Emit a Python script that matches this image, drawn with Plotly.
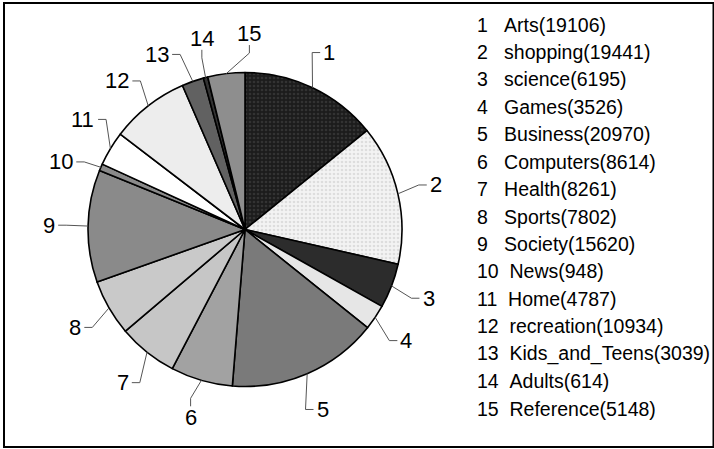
import math
import plotly.graph_objects as go

# ---- data ----
categories = ["Arts", "shopping", "science", "Games", "Business", "Computers", "Health",
              "Sports", "Society", "News", "Home", "recreation", "Kids_and_Teens",
              "Adults", "Reference"]
values = [19106, 19441, 6195, 3526, 20970, 8614, 8261, 7802, 15620, 948, 4787,
          10934, 3039, 614, 5148]
slice_numbers = [str(i + 1) for i in range(len(categories))]

# ---- style ----
colors = ["#1c1c1c", "#f3f3f3", "#2c2c2c", "#e6e6e6", "#7a7a7a", "#a2a2a2", "#c6c6c6",
          "#c9c9c9", "#8a8a8a", "#8a8a8a", "#ffffff", "#ededed", "#616161",
          "#333333", "#8e8e8e"]
pattern_shapes = ["."] * 2 + [""] * 13
pattern_fg = ["#4a4a4a", "#c8c8c8"] + ["#000000"] * 13

W, H = 714, 449
CX, CY, R = 245, 229.5, 157
FONT = "Arial, 'Liberation Sans', sans-serif"


def px(x):
    return x / W


def py(y):
    return 1 - y / H


fig = go.Figure(go.Pie(
    values=values, labels=categories, sort=False, direction="clockwise", rotation=0,
    textinfo="none", showlegend=False, hoverinfo="label+value",
    marker=dict(colors=colors, line=dict(color="black", width=1.6),
                pattern=dict(shape=pattern_shapes, fgcolor=pattern_fg, size=4, solidity=0.35,
                             fillmode="overlay")),
    domain=dict(x=[(CX - R) / W, (CX + R) / W], y=[py(CY + R), py(CY - R)]),
))

# ---- slice label positions derived from the data ----
total = float(sum(values))
mids = []
cum = 0.0
for v in values:
    mids.append((cum + v / 2) / total * 360.0)
    cum += v

# relax label angles to keep a minimum separation
lab = mids[:]
MIN_GAP = 14.0
n = len(lab)
for _ in range(200):
    moved = False
    for i in range(n):
        j = (i + 1) % n
        a, b = lab[i], lab[j]
        gap = (b - a) % 360.0
        if gap < MIN_GAP:
            push = (MIN_GAP - gap) / 2
            lab[i] = (a - push) % 360.0
            lab[j] = (b + push) % 360.0
            moved = True
    if not moved:
        break


def pt(ang, r):
    t = math.radians(ang)
    return CX + r * math.sin(t), CY - r * math.cos(t)


RL = R + 39
LFS = 22
annotations = []
shapes = []
for i, num in enumerate(slice_numbers):
    la = lab[i]
    tx, ty = pt(la, RL)
    annotations.append(dict(x=px(tx), y=py(ty), xref="paper", yref="paper", text=num,
                            showarrow=False, xanchor="center", yanchor="middle",
                            font=dict(size=LFS, color="black", family=FONT)))
    ex, ey = pt(mids[i], R)
    hw = len(num) * 0.556 * LFS / 2
    hh = 8.5
    s = math.sin(math.radians(la))
    c = math.cos(math.radians(la))
    if abs(s) > 0.35:
        sg = 1 if s > 0 else -1
        cx_, cy_ = tx - sg * (hw + 3), ty
        bx, by = cx_ - sg * 8, ty
    else:
        sg = 1 if c > 0 else -1  # 1: label above pie
        cx_, cy_ = tx, ty + sg * (hh + 3)
        bx, by = tx, cy_ + sg * 8
    shapes.append(dict(type="path", xref="paper", yref="paper",
                       path=f"M {px(ex)} {py(ey)} L {px(bx)} {py(by)} L {px(cx_)} {py(cy_)}",
                       line=dict(color="#555555", width=1)))

# ---- legend list ----
LEG_X, LEG_Y0, LEG_DY = 475, 24.5, 27.43
for i, (cat, v) in enumerate(zip(categories, values)):
    num = slice_numbers[i]
    sep = "\u00a0\u00a0\u00a0" if len(num) == 1 else "\u00a0\u00a0"
    annotations.append(dict(x=px(LEG_X), y=py(LEG_Y0 + i * LEG_DY), xref="paper", yref="paper",
                            text=f"{num}{sep}{cat}({v})", showarrow=False,
                            xanchor="left", yanchor="middle",
                            font=dict(size=19.5, color="black", family=FONT)))

# frame
shapes.append(dict(type="rect", xref="paper", yref="paper", x0=px(4), x1=px(713.5),
                   y0=py(447), y1=py(3), line=dict(color="black", width=2)))

fig.update_layout(width=W, height=H, margin=dict(l=0, r=0, t=0, b=0),
                  paper_bgcolor="white", plot_bgcolor="white",
                  annotations=annotations, shapes=shapes)

fig.write_html("out.html")
